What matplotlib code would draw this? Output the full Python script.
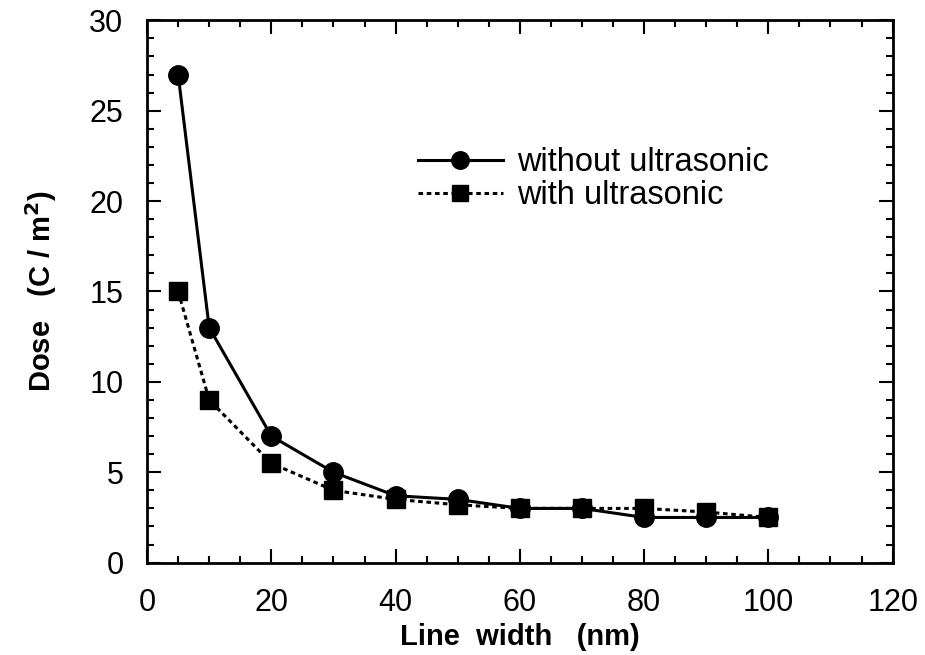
import matplotlib
matplotlib.use("Agg")
import matplotlib.pyplot as plt
from matplotlib.ticker import MultipleLocator

# Line width (nm) and dose values for the two processes
line_width = [5, 10, 20, 30, 40, 50, 60, 70, 80, 90, 100]
dose_without = [27, 13, 7, 5, 3.7, 3.5, 3.0, 3.0, 2.5, 2.5, 2.5]
dose_with = [15, 9, 5.5, 4, 3.5, 3.2, 3.0, 3.0, 3.0, 2.8, 2.5]

plt.rcParams['font.family'] = ['Liberation Sans', 'DejaVu Sans']

fig = plt.figure(figsize=(9.25, 6.55), dpi=100)
ax = fig.add_axes([0.159, 0.141, 0.806, 0.828])

ax.plot(line_width, dose_without, color='black', lw=2.2, marker='o', ms=14,
        label='without ultrasonic')
ax.plot(line_width, dose_with, color='black', lw=2.2, ls=(0, (1.5, 1.2)), marker='s', ms=13,
        label='with ultrasonic')

ax.set_xlim(0, 120)
ax.set_ylim(0, 30)
ax.xaxis.set_major_locator(MultipleLocator(20))
ax.xaxis.set_minor_locator(MultipleLocator(5))
ax.yaxis.set_major_locator(MultipleLocator(5))
ax.yaxis.set_minor_locator(MultipleLocator(1))
ax.tick_params(which='both', direction='in', top=True, right=True, width=1.5)
ax.tick_params(which='major', length=10, labelsize=22)
ax.tick_params(which='minor', length=5)
ax.tick_params(axis='x', which='major', pad=18)
ax.tick_params(axis='y', which='major', pad=17)
for sp in ax.spines.values():
    sp.set_linewidth(2)

ax.set_xlabel('Line  width   (nm)', fontsize=21, fontweight='bold', labelpad=4)
ax.set_ylabel('Dose   (C / m$^\\mathbf{2}$)', fontsize=21, fontweight='bold', labelpad=22)

ax.legend(loc='upper left', bbox_to_anchor=(0.363, 0.766), frameon=False, fontsize=23.5,
          handlelength=2.6, handletextpad=0.45, labelspacing=0.07,
          borderpad=0, borderaxespad=0, markerscale=0.9)

fig.savefig('out.png', dpi=100)
